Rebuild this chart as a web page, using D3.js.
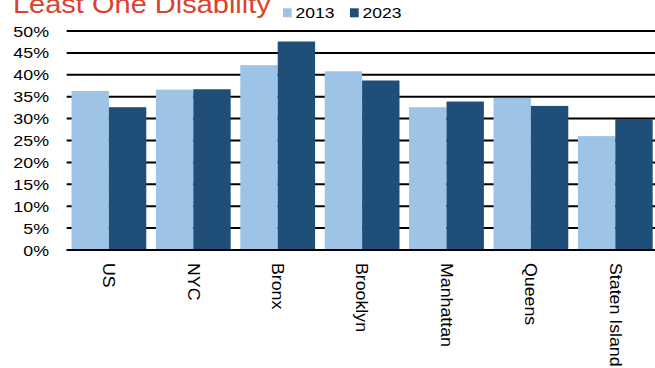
<!DOCTYPE html>
<html>
<head>
<meta charset="utf-8">
<script src="https://cdn.jsdelivr.net/npm/d3@7"></script>
<style>
  html, body { margin: 0; padding: 0; background: #fff; }
  svg { display: block; }
  text { font-family: "Liberation Sans", Arial, Helvetica, sans-serif; }
</style>
</head>
<body>
<svg id="chart" width="655" height="368"></svg>
<script>
// Share of residents reporting at least one disability, by area
const categories = ["US", "NYC", "Bronx", "Brooklyn", "Manhattan", "Queens", "Staten Island"];
const years = ["2013", "2023"];
const values2013 = [36.3, 36.6, 42.2, 40.8, 32.6, 34.7, 26.0];
const values2023 = [32.6, 36.7, 47.6, 38.7, 33.9, 32.9, 29.9];
const yTicks = [0, 5, 10, 15, 20, 25, 30, 35, 40, 45, 50];
const titleText = "Least One Disability";

const colors = { "2013": "#9dc3e6", "2023": "#1f4e79" };
const textStretch = 1.15;

const svg = d3.select("#chart");

const x = d3.scaleBand()
  .domain(categories)
  .range([66.7, 657.5])
  .paddingInner(0.114)
  .paddingOuter(0.057);

const xSub = d3.scaleBand()
  .domain(years)
  .range([0, x.bandwidth()]);

const y = d3.scaleLinear().domain([0, 50]).range([250, 31]);

// horizontal gridlines
svg.append("g")
  .selectAll("line")
  .data(yTicks)
  .join("line")
  .attr("x1", 66.7)
  .attr("x2", 655)
  .attr("y1", d => y(d))
  .attr("y2", d => y(d))
  .attr("stroke", "#000")
  .attr("stroke-width", 2);

// tick labels
svg.append("g")
  .selectAll("text")
  .data(yTicks)
  .join("text")
  .attr("transform", d => `translate(49,${y(d)}) scale(${textStretch},1)`)
  .attr("text-anchor", "end")
  .attr("dy", "0.36em")
  .attr("font-size", 15.5)
  .attr("fill", "#000")
  .text(d => d + "%");

// bars
const rows = categories.map((c, i) => ({
  cat: c,
  vals: [{ year: "2013", v: values2013[i] }, { year: "2023", v: values2023[i] }]
}));

svg.append("g")
  .selectAll("g")
  .data(rows)
  .join("g")
  .attr("transform", d => `translate(${x(d.cat)},0)`)
  .selectAll("rect")
  .data(d => d.vals)
  .join("rect")
  .attr("x", d => xSub(d.year))
  .attr("width", xSub.bandwidth())
  .attr("y", d => y(d.v))
  .attr("height", d => y(0) - y(d.v))
  .attr("fill", d => colors[d.year]);

// baseline
svg.append("line")
  .attr("x1", 66.7).attr("x2", 655)
  .attr("y1", y(0)).attr("y2", y(0))
  .attr("stroke", "#000").attr("stroke-width", 2);

// category labels, rotated
svg.append("g")
  .selectAll("text")
  .data(categories)
  .join("text")
  .attr("transform", d => `translate(${x(d) + x.bandwidth() / 2},263) rotate(90) scale(1.11,1)`)
  .attr("text-anchor", "start")
  .attr("dy", "0.35em")
  .attr("font-size", 16)
  .attr("fill", "#000")
  .text(d => d);

// title
svg.append("text")
  .attr("transform", `translate(13,13.3) scale(1.16,1)`)
  .attr("font-size", 25)
  .attr("fill", "#d9432f")
  .text(titleText);

// legend
const legendX = [283, 350];
const legend = svg.append("g")
  .selectAll("g")
  .data(years)
  .join("g")
  .attr("transform", (d, i) => `translate(${legendX[i]},0)`);
legend.append("rect")
  .attr("x", 0).attr("y", 8.3)
  .attr("width", 8.7).attr("height", 9)
  .attr("fill", d => colors[d]);
legend.append("text")
  .attr("transform", `translate(12.5,18.3) scale(1.13,1)`)
  .attr("font-size", 15.5)
  .attr("fill", "#000")
  .text(d => d);
</script>
</body>
</html>
